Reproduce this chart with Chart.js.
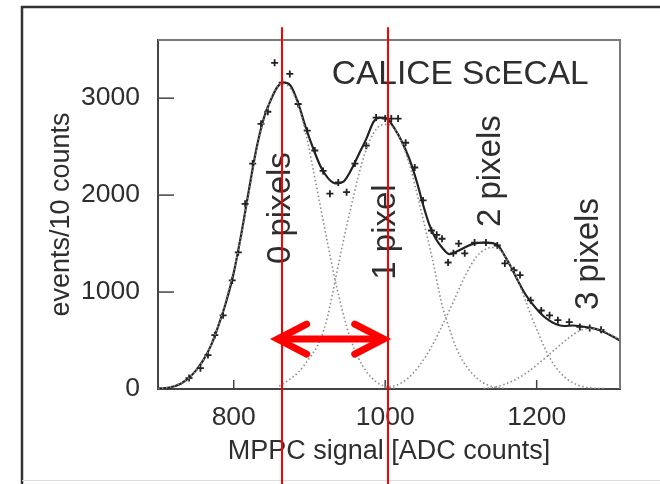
<!DOCTYPE html>
<html>
<head>
<meta charset="utf-8">
<script src="https://cdn.jsdelivr.net/npm/chart.js@4.4.1/dist/chart.umd.min.js"></script>
<style>
  html, body { margin: 0; padding: 0; background: #fff; }
  canvas { display: block; }
</style>
</head>
<body>
<canvas id="chart" width="660" height="484"></canvas>
<script>
// fitted spectrum (solid line)
const fitX = [700,715,730,740,750,760,770,780,790,800,810,820,830,840,850,858,866,875,885,895,905,915,925,935,945,955,965,975,985,993,1002,1012,1022,1032,1042,1050,1058,1066,1075,1085,1095,1105,1117,1130,1142,1150,1158,1166,1175,1184,1194,1204,1214,1225,1236,1248,1260,1272,1284,1296,1310]
const fitY = [5,15,55,110,190,300,450,660,900,1200,1600,2050,2480,2800,3000,3120,3160,3130,2950,2700,2480,2290,2170,2120,2140,2260,2420,2580,2760,2800,2790,2690,2550,2370,2130,1900,1700,1560,1460,1390,1420,1460,1500,1510,1505,1470,1370,1260,1120,990,880,790,720,670,650,655,645,630,605,560,500]

// measured bins (+ markers)
const pointsX = [741,756,766,775,786,798,806,815,825,836,845,854,864,874,885,897,907,918,927,938,949,960,975,988,1000,1008,1017,1027,1039,1050,1061,1068,1075,1083,1090,1097,1105,1118,1133,1148,1158,1170,1178,1192,1206,1217,1228,1243,1257,1270,1285]
const pointsY = [113,215,350,555,760,1120,1410,1910,2325,2735,2860,3365,3160,3250,2940,2665,2460,2250,2015,2130,2030,2325,2510,2800,2790,2790,2790,2540,2285,1945,1635,1590,1550,1305,1400,1500,1400,1510,1510,1480,1295,1225,1175,915,810,760,710,690,640,630,610]

// single components (dotted)
const g0X = [700,712,724,736,748,760,772,784,796,808,820,832,844,854,864,874,884,894,904,914,924,934,944,954,964,976,988,1000,1015]
const g0Y = [5,15,40,85,170,300,490,760,1100,1500,2020,2530,2880,3080,3150,3110,2950,2680,2300,1900,1500,1120,790,520,330,170,75,25,5]
const g1X = [860,872,885,900,914,924,934,944,954,964,974,984,994,1004,1014,1024,1034,1044,1054,1064,1074,1084,1094,1104,1116,1128,1142,1160]
const g1Y = [30,90,170,320,500,750,1120,1500,1850,2180,2450,2630,2720,2730,2660,2500,2260,1950,1620,1280,900,640,420,270,150,70,25,5]
const g2X = [1000,1015,1030,1045,1060,1075,1090,1105,1120,1132,1142,1152,1162,1172,1182,1192,1202,1212,1222,1232,1242,1255,1270,1290]
const g2Y = [15,40,110,240,420,650,900,1160,1360,1440,1460,1430,1320,1170,980,770,580,400,260,160,90,40,12,3]
const g3X = [1130,1145,1160,1175,1190,1205,1220,1235,1250,1262,1274,1286,1298,1310]
const g3Y = [5,20,55,110,185,280,380,480,570,615,625,605,560,505]

const xTicks = [800, 1000, 1200]
const yTicks = [0, 1000, 2000, 3000]

// text inside the frame: [label, x, y]
const peakLabels = [['0 pixels', 862, 1866], ['1 pixel', 1001, 1619], ['2 pixels', 1140, 2247], ['3 pixels', 1269, 1392]]
const titleLabel = ['CALICE ScECAL', 1099, 3237]

// red markup on top
const redLinesX = [864, 1004]
const redLinesY = [-979, 3732]
const arrowX = [854, 1002]
const arrowY = 515

const font = "'Liberation Sans', Arial, sans-serif"
const ink = '#2e2e2e'

const xy = (xs, ys) => xs.map((v, i) => ({x: v, y: ys[i]}))

const dotted = (xs, ys) => ({
  data: xy(xs, ys),
  borderColor: '#8c8c8c',
  borderWidth: 1.6,
  borderDash: [1.5, 2.5],
  pointRadius: 0,
  cubicInterpolationMode: 'monotone',
  fill: false
})

const decor = {
  id: 'decor',
  beforeDraw(chart) {
    const c = chart.ctx
    c.save()
    c.fillStyle = '#fff'
    c.fillRect(0, 0, chart.width, chart.height)
    c.strokeStyle = '#333'
    c.lineWidth = 2.5
    c.beginPath()
    c.moveTo(22, chart.height)
    c.lineTo(22, 7)
    c.lineTo(chart.width, 7)
    c.stroke()
    c.strokeStyle = '#ddd'
    c.lineWidth = 1
    c.beginPath()
    c.moveTo(22, chart.height - 3.5)
    c.lineTo(chart.width, chart.height - 3.5)
    c.stroke()
    c.restore()
  },
  beforeDatasetsDraw(chart) {
    const {ctx, chartArea: a, scales: {x, y}} = chart
    ctx.save()
    ctx.strokeStyle = '#7a7a7a'
    ctx.lineWidth = 2
    ctx.beginPath()
    ctx.moveTo(a.left, a.top)
    ctx.lineTo(a.right, a.top)
    ctx.lineTo(a.right, a.bottom)
    ctx.stroke()
    ctx.strokeStyle = '#444'
    ctx.lineWidth = 1.5
    yTicks.forEach(v => {
      const py = y.getPixelForValue(v)
      ctx.beginPath(); ctx.moveTo(a.left, py); ctx.lineTo(a.left + 16, py); ctx.stroke()
    })
    xTicks.forEach(v => {
      const px = x.getPixelForValue(v)
      ctx.beginPath(); ctx.moveTo(px, a.bottom); ctx.lineTo(px, a.bottom - 9); ctx.stroke()
    })
    ctx.restore()
  },
  afterDatasetsDraw(chart) {
    const {ctx, scales: {x, y}} = chart
    ctx.save()
    ctx.fillStyle = ink
    ctx.textAlign = 'center'
    ctx.textBaseline = 'middle'
    ctx.font = '33.5px ' + font
    ctx.fillText(titleLabel[0], x.getPixelForValue(titleLabel[1]), y.getPixelForValue(titleLabel[2]))
    ctx.font = '33px ' + font
    peakLabels.forEach(([t, vx, vy]) => {
      ctx.save()
      ctx.translate(x.getPixelForValue(vx), y.getPixelForValue(vy))
      ctx.rotate(-Math.PI / 2)
      ctx.fillText(t, 0, 0)
      ctx.restore()
    })

    // red guide lines and double arrow
    ctx.strokeStyle = '#ff0000'
    ctx.lineWidth = 2
    redLinesX.forEach(v => {
      const px = Math.round(x.getPixelForValue(v))
      ctx.beginPath()
      ctx.moveTo(px, y.getPixelForValue(redLinesY[1]))
      ctx.lineTo(px, y.getPixelForValue(redLinesY[0]))
      ctx.stroke()
    })
    const ay = y.getPixelForValue(arrowY)
    const ax0 = x.getPixelForValue(arrowX[0])
    const ax1 = x.getPixelForValue(arrowX[1])
    ctx.lineWidth = 7
    ctx.lineCap = 'round'
    ctx.lineJoin = 'miter'
    ctx.beginPath()
    ctx.moveTo(ax0 + 4, ay); ctx.lineTo(ax1 - 4, ay)
    ctx.stroke()
    ctx.beginPath()
    ctx.moveTo(ax0 + 32, ay - 15); ctx.lineTo(ax0 + 3, ay); ctx.lineTo(ax0 + 32, ay + 15)
    ctx.moveTo(ax1 - 32, ay - 15); ctx.lineTo(ax1 - 3, ay); ctx.lineTo(ax1 - 32, ay + 15)
    ctx.stroke()
    ctx.restore()
  }
}

new Chart(document.getElementById('chart'), {
  type: 'line',
  data: {
    datasets: [
      dotted(g0X, g0Y),
      dotted(g1X, g1Y),
      dotted(g2X, g2Y),
      dotted(g3X, g3Y),
      {
        data: xy(fitX, fitY),
        borderColor: '#222',
        borderWidth: 2.2,
        pointRadius: 0,
        cubicInterpolationMode: 'monotone',
        fill: false
      },
      {
        data: xy(pointsX, pointsY),
        showLine: false,
        pointStyle: 'cross',
        pointRadius: 3.5,
        pointBorderWidth: 1.8,
        pointBorderColor: '#222'
      }
    ]
  },
  options: {
    responsive: false,
    animation: false,
    layout: { padding: { left: 0, top: 40, right: 40, bottom: 0 } },
    plugins: { legend: { display: false }, tooltip: { enabled: false } },
    scales: {
      x: {
        type: 'linear',
        min: 700,
        max: 1310,
        grid: { display: false },
        border: { display: true, color: '#444', width: 2 },
        ticks: { color: ink, font: { family: font, size: 26.5 }, padding: 5, maxRotation: 0, callback: v => String(v) },
        title: { display: true, text: 'MPPC signal [ADC counts]', color: ink, font: { family: font, size: 27 }, padding: { top: 0, bottom: 16 } },
        afterBuildTicks: s => { s.ticks = xTicks.map(v => ({ value: v })) },
        afterFit: s => { s.height = 95 }
      },
      y: {
        min: 0,
        max: 3600,
        grid: { display: false },
        border: { display: true, color: '#444', width: 2 },
        ticks: { color: ink, font: { family: font, size: 26.5 }, padding: 10, callback: v => String(v) },
        title: { display: true, text: 'events/10 counts', color: ink, font: { family: font, size: 27 }, padding: { top: 45, bottom: 0 } },
        afterBuildTicks: s => { s.ticks = yTicks.map(v => ({ value: v })) },
        afterFit: s => { s.width = 158 }
      }
    }
  },
  plugins: [decor]
})
</script>
</body>
</html>
